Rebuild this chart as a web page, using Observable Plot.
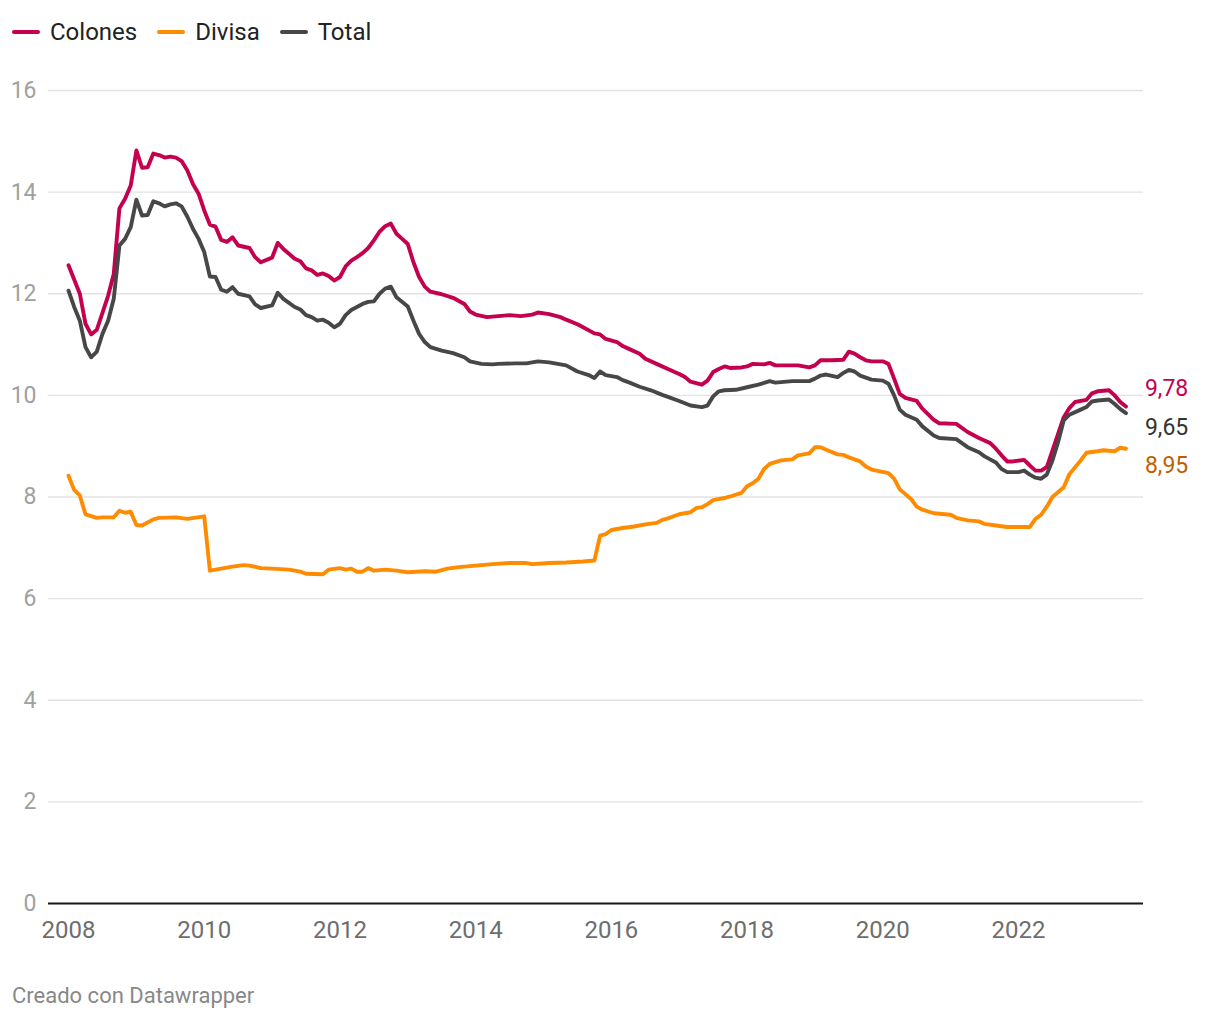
<!DOCTYPE html>
<html><head><meta charset="utf-8">
<script src="https://cdn.jsdelivr.net/npm/d3@7"></script>
<script src="https://cdn.jsdelivr.net/npm/@observablehq/plot@0.6"></script>
<style>
body{margin:0;background:#fff;font-family:Roboto,sans-serif;}
#wrap{position:relative;width:1220px;height:1020px;overflow:hidden;}
#legend{position:absolute;left:12px;top:18px;display:flex;align-items:center;font-size:24px;color:#222;line-height:28px;}
#legend .item{display:flex;align-items:center;margin-right:20px;}
#legend .sw{display:inline-block;width:28px;height:4px;border-radius:2px;margin-right:10px;}
#chart{position:absolute;left:0;top:60px;}
#caption{position:absolute;left:12px;top:983px;font-size:22px;color:#888;}
</style></head>
<body>
<div id="wrap">
  <div id="legend"></div>
  <div id="chart"></div>
  <div id="caption">Creado con Datawrapper</div>
</div>
<script>
const seriesNames = ["Colones", "Divisa", "Total"];
const seriesColors = ["#c4004f", "#ff8c00", "#474747"];
const labelColors = ["#c4004f", "#c05f00", "#333333"];
const xTicks = [2008, 2010, 2012, 2014, 2016, 2018, 2020, 2022];
const yTicks = [0, 2, 4, 6, 8, 10, 12, 14, 16];

const colones = [
["2008-01",12.56],["2008-03",12.0],["2008-04",11.41],["2008-05",11.2],["2008-06",11.29],["2008-08",11.96],["2008-09",12.39],
["2008-10",13.68],["2008-11",13.87],["2008-12",14.13],["2009-01",14.82],["2009-02",14.48],["2009-03",14.49],["2009-04",14.76],
["2009-05",14.73],["2009-06",14.68],["2009-07",14.7],["2009-08",14.68],["2009-09",14.61],["2009-10",14.43],["2009-11",14.16],
["2009-12",13.97],["2010-01",13.64],["2010-02",13.36],["2010-03",13.32],["2010-04",13.06],["2010-05",13.02],["2010-06",13.11],
["2010-07",12.95],["2010-09",12.9],["2010-10",12.72],["2010-11",12.62],["2011-01",12.71],["2011-02",13.0],["2011-03",12.88],
["2011-05",12.69],["2011-06",12.64],["2011-07",12.5],["2011-08",12.46],["2011-09",12.37],["2011-10",12.4],["2011-11",12.35],
["2011-12",12.26],["2012-01",12.33],["2012-02",12.54],["2012-03",12.65],["2012-04",12.72],["2012-05",12.8],["2012-06",12.9],
["2012-07",13.05],["2012-08",13.22],["2012-09",13.33],["2012-10",13.38],["2012-11",13.18],["2012-12",13.08],["2013-01",12.98],
["2013-02",12.62],["2013-03",12.33],["2013-04",12.14],["2013-05",12.04],["2013-07",11.99],["2013-09",11.92],["2013-11",11.8],
["2013-12",11.65],["2014-01",11.59],["2014-03",11.54],["2014-05",11.56],["2014-07",11.58],["2014-09",11.56],["2014-11",11.59],
["2014-12",11.63],["2015-02",11.6],["2015-04",11.54],["2015-05",11.49],["2015-07",11.4],["2015-08",11.34],["2015-10",11.22],
["2015-11",11.2],["2015-12",11.11],["2016-02",11.05],["2016-03",10.97],["2016-04",10.92],["2016-06",10.82],["2016-07",10.72],
["2016-09",10.62],["2016-11",10.52],["2017-01",10.42],["2017-02",10.36],["2017-03",10.27],["2017-04",10.24],["2017-05",10.21],
["2017-06",10.29],["2017-07",10.46],["2017-08",10.52],["2017-09",10.57],["2017-10",10.54],["2017-12",10.55],["2018-01",10.57],
["2018-02",10.62],["2018-04",10.61],["2018-05",10.64],["2018-06",10.59],["2018-08",10.59],["2018-10",10.59],["2018-12",10.55],
["2019-01",10.59],["2019-02",10.69],["2019-04",10.69],["2019-06",10.7],["2019-07",10.86],["2019-08",10.82],["2019-09",10.75],
["2019-10",10.69],["2019-11",10.67],["2020-01",10.67],["2020-02",10.62],["2020-03",10.33],["2020-04",10.03],["2020-05",9.95],
["2020-07",9.89],["2020-08",9.74],["2020-10",9.52],["2020-11",9.45],["2021-02",9.44],["2021-04",9.28],["2021-06",9.16],
["2021-08",9.06],["2021-09",8.95],["2021-10",8.82],["2021-11",8.7],["2021-12",8.7],["2022-02",8.73],["2022-03",8.62],
["2022-04",8.52],["2022-05",8.52],["2022-06",8.59],["2022-07",8.91],["2022-08",9.24],["2022-09",9.57],["2022-10",9.75],
["2022-11",9.87],["2023-01",9.91],["2023-02",10.04],["2023-03",10.08],["2023-05",10.1],["2023-06",10.0],["2023-07",9.87],
["2023-08",9.78]
];

const divisa = [
["2008-01",8.42],["2008-02",8.14],["2008-03",8.03],["2008-04",7.66],["2008-06",7.59],["2008-07",7.6],["2008-09",7.6],
["2008-10",7.73],["2008-11",7.69],["2008-12",7.71],["2009-01",7.45],["2009-02",7.44],["2009-04",7.56],["2009-05",7.59],
["2009-08",7.6],["2009-10",7.57],["2010-01",7.62],["2010-02",6.55],["2010-04",6.59],["2010-06",6.63],["2010-08",6.66],
["2010-09",6.65],["2010-11",6.6],["2011-01",6.59],["2011-04",6.57],["2011-06",6.53],["2011-07",6.49],["2011-10",6.48],
["2011-11",6.57],["2012-01",6.6],["2012-02",6.57],["2012-03",6.59],["2012-04",6.53],["2012-05",6.53],["2012-06",6.6],
["2012-07",6.55],["2012-09",6.57],["2012-11",6.55],["2013-01",6.52],["2013-04",6.54],["2013-06",6.53],["2013-08",6.59],
["2013-10",6.62],["2014-01",6.65],["2014-04",6.68],["2014-07",6.7],["2014-10",6.7],["2014-11",6.68],["2015-02",6.7],
["2015-05",6.71],["2015-08",6.73],["2015-10",6.75],["2015-11",7.24],["2015-12",7.27],["2016-01",7.35],["2016-03",7.39],
["2016-05",7.42],["2016-07",7.46],["2016-09",7.49],["2016-10",7.55],["2016-11",7.58],["2017-01",7.66],["2017-03",7.7],
["2017-04",7.78],["2017-05",7.8],["2017-06",7.86],["2017-07",7.94],["2017-09",7.98],["2017-10",8.01],["2017-12",8.08],
["2018-01",8.21],["2018-02",8.27],["2018-03",8.36],["2018-04",8.55],["2018-05",8.65],["2018-07",8.72],["2018-09",8.74],
["2018-10",8.82],["2018-12",8.86],["2019-01",8.98],["2019-02",8.98],["2019-03",8.93],["2019-05",8.84],["2019-06",8.83],
["2019-07",8.78],["2019-09",8.7],["2019-10",8.6],["2019-11",8.54],["2020-02",8.47],["2020-03",8.36],["2020-04",8.15],
["2020-06",7.96],["2020-07",7.81],["2020-08",7.75],["2020-10",7.68],["2021-01",7.65],["2021-02",7.59],["2021-04",7.54],
["2021-06",7.52],["2021-07",7.47],["2021-09",7.44],["2021-11",7.41],["2022-03",7.41],["2022-04",7.57],["2022-05",7.65],
["2022-06",7.81],["2022-07",8.0],["2022-09",8.19],["2022-10",8.45],["2022-12",8.72],["2023-01",8.87],["2023-03",8.9],
["2023-04",8.92],["2023-06",8.9],["2023-07",8.97],["2023-08",8.95]
];

const total = [
["2008-01",12.06],["2008-02",11.74],["2008-03",11.47],["2008-04",10.95],["2008-05",10.75],["2008-06",10.86],["2008-07",11.21],
["2008-08",11.47],["2008-09",11.9],["2008-10",12.95],["2008-11",13.08],["2008-12",13.31],["2009-01",13.85],["2009-02",13.54],
["2009-03",13.55],["2009-04",13.82],["2009-05",13.78],["2009-06",13.72],["2009-07",13.76],["2009-08",13.78],["2009-09",13.72],
["2009-10",13.52],["2009-11",13.28],["2009-12",13.08],["2010-01",12.82],["2010-02",12.34],["2010-03",12.33],["2010-04",12.08],
["2010-05",12.04],["2010-06",12.13],["2010-07",12.0],["2010-09",11.95],["2010-10",11.79],["2010-11",11.72],["2011-01",11.77],
["2011-02",12.02],["2011-03",11.9],["2011-05",11.74],["2011-06",11.69],["2011-07",11.58],["2011-08",11.54],["2011-09",11.47],
["2011-10",11.49],["2011-11",11.43],["2011-12",11.34],["2012-01",11.41],["2012-02",11.58],["2012-03",11.68],["2012-04",11.74],
["2012-05",11.8],["2012-06",11.84],["2012-07",11.85],["2012-08",12.0],["2012-09",12.1],["2012-10",12.14],["2012-11",11.93],
["2013-01",11.75],["2013-02",11.47],["2013-03",11.21],["2013-04",11.05],["2013-05",10.95],["2013-07",10.88],["2013-09",10.83],
["2013-11",10.75],["2013-12",10.67],["2014-02",10.62],["2014-04",10.61],["2014-05",10.62],["2014-08",10.63],["2014-10",10.63],
["2014-12",10.67],["2015-02",10.65],["2015-05",10.59],["2015-07",10.47],["2015-09",10.4],["2015-10",10.34],["2015-11",10.47],
["2015-12",10.4],["2016-02",10.36],["2016-03",10.3],["2016-04",10.26],["2016-06",10.17],["2016-08",10.1],["2016-10",10.01],
["2016-11",9.97],["2017-01",9.89],["2017-03",9.8],["2017-05",9.77],["2017-06",9.8],["2017-07",9.98],["2017-08",10.08],
["2017-09",10.1],["2017-11",10.11],["2018-01",10.16],["2018-03",10.21],["2018-05",10.28],["2018-06",10.25],["2018-07",10.26],
["2018-09",10.28],["2018-12",10.28],["2019-01",10.33],["2019-02",10.39],["2019-03",10.41],["2019-05",10.36],["2019-06",10.44],
["2019-07",10.5],["2019-08",10.47],["2019-09",10.39],["2019-11",10.31],["2020-01",10.29],["2020-02",10.23],["2020-03",10.0],
["2020-04",9.72],["2020-05",9.62],["2020-07",9.52],["2020-08",9.39],["2020-10",9.21],["2020-11",9.16],["2021-02",9.14],
["2021-04",8.98],["2021-06",8.88],["2021-07",8.8],["2021-09",8.68],["2021-10",8.55],["2021-11",8.49],["2022-01",8.49],
["2022-02",8.52],["2022-03",8.44],["2022-04",8.38],["2022-05",8.36],["2022-06",8.44],["2022-07",8.72],["2022-08",9.08],
["2022-09",9.51],["2022-10",9.62],["2022-12",9.72],["2023-01",9.77],["2023-02",9.88],["2023-03",9.9],["2023-05",9.92],
["2023-06",9.83],["2023-07",9.73],["2023-08",9.65]
];

const toYear = s => { const [y, m] = s.split("-").map(Number); return y + (m - 1) / 12; };
const seriesData = [colones, divisa, total];
const rows = seriesData.flatMap((arr, i) => arr.map(([d, v]) => ({serie: seriesNames[i], x: toYear(d), v})));
const lastRows = seriesData.map((arr, i) => ({serie: seriesNames[i], x: toYear(arr[arr.length - 1][0]), v: arr[arr.length - 1][1]}));
const fmt = v => v.toFixed(2).replace(".", ",");
const labelDy = {"Colones": -18, "Total": 14, "Divisa": 17};

// legend
const legend = document.getElementById("legend");
seriesNames.forEach((n, i) => {
  const it = document.createElement("div"); it.className = "item";
  const sw = document.createElement("span"); sw.className = "sw"; sw.style.background = seriesColors[i];
  const tx = document.createElement("span"); tx.textContent = n;
  it.appendChild(sw); it.appendChild(tx); legend.appendChild(it);
});

const colorScale = {domain: seriesNames, range: seriesColors};
const chart = Plot.plot({
  width: 1220, height: 900,
  marginTop: 30, marginBottom: 57, marginLeft: 48, marginRight: 77,
  x: {type: "linear", domain: [2007.705, 2023.842], label: null},
  y: {domain: [0, 16], label: null},
  color: colorScale,
  style: {fontFamily: "Roboto, sans-serif", fontSize: "23px", overflow: "visible", background: "transparent"},
  marks: [
    Plot.gridY(yTicks, {stroke: "#e3e3e3", strokeOpacity: 1, strokeWidth: 1.3}),
    Plot.axisY(yTicks, {tickSize: 0, tickPadding: 12, fill: "#a0a0a0", label: null, tickFormat: d => String(d), fontSize: 23}),
    Plot.axisX(xTicks, {tickSize: 0, tickPadding: 17, fill: "#6e6e6e", label: null, tickFormat: d => String(d), fontSize: 24}),
    Plot.ruleY([0], {stroke: "#1a1a1a", strokeWidth: 2}),
    Plot.line(rows, {x: "x", y: "v", z: "serie", stroke: "serie", strokeWidth: 3.9, strokeLinejoin: "round", strokeLinecap: "round"}),
    ...seriesNames.map((n, i) => Plot.text(lastRows.filter(r => r.serie === n), {
      x: "x", y: "v", text: r => fmt(r.v), textAnchor: "start", dx: 19, dy: labelDy[n],
      fill: labelColors[i], fontSize: 23
    }))
  ]
});
document.getElementById("chart").appendChild(chart);
</script>
</body></html>
